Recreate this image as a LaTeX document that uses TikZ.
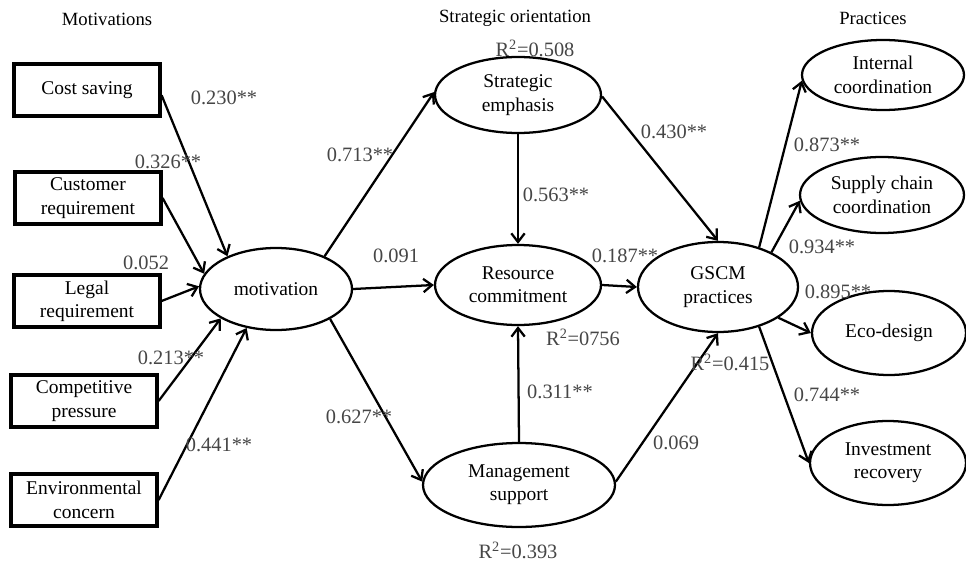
\documentclass[tikz,border=0pt]{standalone}
\usepackage{fontspec}
\setmainfont{Liberation Serif}
\usetikzlibrary{shapes.geometric,arrows.meta}
\definecolor{numc}{RGB}{70,70,70}
\begin{document}
\begin{tikzpicture}[x=0.75pt,y=-0.75pt,
 box/.style={draw,line width=2.4pt,minimum width=146*0.75pt,minimum height=52*0.75pt,inner sep=0pt,align=center,font=\fontsize{14.6}{17.5}\selectfont},
 ell/.style={draw,ellipse,line width=1.7pt,inner sep=0pt,align=center,font=\fontsize{14.6}{17.5}\selectfont},
 num/.style={text=numc,font=\fontsize{15.3}{17}\selectfont,inner sep=0pt},
 ttl/.style={font=\fontsize{14}{17}\selectfont,inner sep=0pt},
 arr/.style={line width=1.7pt,-{Straight Barb[length=6.5pt,width=10pt]}}]
\useasboundingbox[fill=white] (0,0) rectangle (966,563);

% titles
\node[ttl] (t1) at (107,19) {Motivations};
\node[ttl] (t2) at (515,18) {Strategic orientation};
\node[ttl] (t3) at (873,18) {Practices};

% boxes
\node[box] (cost) at (87,90) {Cost saving};
\node[box] (cust) at (88,198) {Customer\\requirement};
\node[box] (legal) at (87,301) {Legal\\requirement};
\node[box] (comp) at (84,401) {Competitive\\pressure};
\node[box] (env) at (84,500) {Environmental\\concern};

% ellipses
\node[ell,minimum width=152*0.75pt,minimum height=82*0.75pt] (mot) at (276,289) {motivation};
\node[ell,minimum width=166*0.75pt,minimum height=76*0.75pt] (se) at (518,95) {Strategic\\emphasis};
\node[ell,minimum width=166*0.75pt,minimum height=80*0.75pt] (rc) at (518,285) {Resource\\commitment};
\node[ell,minimum width=192*0.75pt,minimum height=84*0.75pt] (ms) at (519,485) {Management\\support};
\node[ell,minimum width=160*0.75pt,minimum height=90*0.75pt] (gscm) at (718,287) {GSCM\\practices};
\node[ell,minimum width=162*0.75pt,minimum height=70*0.75pt] (ic) at (883,75) {Internal\\coordination};
\node[ell,minimum width=164*0.75pt,minimum height=76*0.75pt] (sc) at (882,195) {Supply chain\\coordination};
\node[ell,minimum width=154*0.75pt,minimum height=84*0.75pt] (eco) at (889,333) {Eco-design};
\node[ell,minimum width=156*0.75pt,minimum height=84*0.75pt] (ir) at (888,463) {Investment\\recovery};

% arrows into motivation
\draw[arr] (cost.-4) -- (mot.146);
\draw[arr] (cust.east) -- (mot.168);
\draw[arr] (legal.east) -- (mot.178);
\draw[arr] (comp.east) -- (mot.208);
\draw[arr] (env.east) -- (mot.233);

% motivation to strategic orientation
\draw[arr] (mot.34) -- (se.178);
\draw[arr] (mot.0) -- (rc.180);
\draw[arr] (mot.-29) -- (ms.178);
\draw[arr] (se.south) -- (rc.north);
\draw[arr] (ms.north) -- (rc.south);

% to GSCM
\draw[arr] (se.-1) -- (gscm.north);
\draw[arr] (rc.0) -- (gscm.180);
\draw[arr] (ms.2) -- (gscm.south);

% GSCM to practices
\draw[arr] (gscm.44) -- (ic.184);
\draw[arr] (gscm.33) -- (sc.184);
\draw[arr] (gscm.-27) -- (eco.180);
\draw[arr] (gscm.-44) -- (ir.180);

% coefficients
\node[num] (l1) at (224,98) {0.230**};
\node[num] (l2) at (168,162) {0.326**};
\node[num] (l3) at (146,263) {0.052};
\node[num] (l4) at (171,358) {0.213**};
\node[num] (l5) at (219,445) {0.441**};
\node[num] (l6) at (360,155) {0.713**};
\node[num] (l7) at (396,256) {0.091};
\node[num] (l8) at (359,417) {0.627**};
\node[num] (l9) at (556,195) {0.563**};
\node[num] (l10) at (560,392) {0.311**};
\node[num] (l11) at (674,132) {0.430**};
\node[num] (l12) at (625,256) {0.187**};
\node[num] (l13) at (676,443) {0.069};
\node[num] (l14) at (827,145) {0.873**};
\node[num] (l15) at (822,247) {0.934**};
\node[num] (l16) at (838,292) {0.895**};
\node[num] (l17) at (827,395) {0.744**};

% R squared
\node[num] (r1) at (535,48) {R\textsuperscript{2}=0.508};
\node[num] (r2) at (583,337) {R\textsuperscript{2}=0756};
\node[num] (r3) at (518,550) {R\textsuperscript{2}=0.393};
\node[num] (r4) at (730,362) {R\textsuperscript{2}=0.415};
\end{tikzpicture}
\end{document}
